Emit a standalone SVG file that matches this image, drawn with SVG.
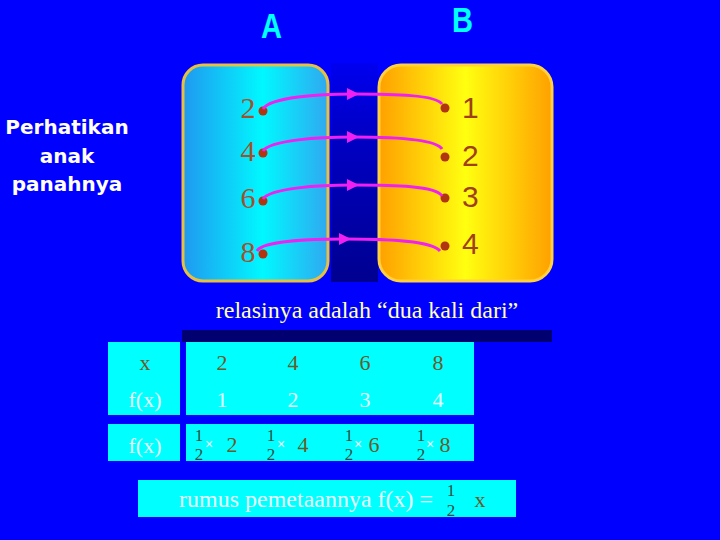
<svg xmlns="http://www.w3.org/2000/svg" width="720" height="540" viewBox="0 0 720 540">
<defs>
<linearGradient id="gA" x1="0" y1="0" x2="1" y2="0">
<stop offset="0" stop-color="#2098F0"/><stop offset="0.55" stop-color="#00F8FF"/><stop offset="1" stop-color="#30A8F0"/>
</linearGradient>
<linearGradient id="gB" x1="0" y1="0" x2="1" y2="0">
<stop offset="0" stop-color="#FFA000"/><stop offset="0.5" stop-color="#FFFF10"/><stop offset="1" stop-color="#FFA000"/>
</linearGradient>
<linearGradient id="gM" x1="0" y1="0" x2="0" y2="1">
<stop offset="0" stop-color="#0000F0"/><stop offset="0.3" stop-color="#0000C8"/><stop offset="1" stop-color="#000090"/>
</linearGradient>
<marker id="ah" viewBox="0 0 10 10" refX="5" refY="5" markerWidth="4" markerHeight="4" markerUnits="strokeWidth" orient="auto">
<path d="M0,0 L10,5 L0,10 z" fill="#F020F0"/>
</marker>
<style>
.ttl{font-family:"Liberation Sans",Arial,sans-serif;font-weight:bold;font-size:35px;fill:#00FFFF}
.lbl{font-family:"DejaVu Sans",Verdana,sans-serif;font-weight:bold;font-size:20px;fill:#FFFFFF;text-anchor:middle}
.nl{font-family:"Liberation Serif","Times New Roman",serif;font-size:30px;fill:#A0522D;text-anchor:middle}
.nr{font-family:"Liberation Sans",Arial,sans-serif;font-size:30px;fill:#A0401A}
.dot{fill:#B03510}
.arr{fill:none;stroke:#F020F0;stroke-width:3;marker-mid:url(#ah)}
.cell{fill:#00FFFF}
.s{font-family:"Liberation Serif","Times New Roman",serif;font-size:22px;text-anchor:middle}
.dk{fill:#6B5A2A}
.lt{fill:#E8FFFF}
.fr{font-family:"Liberation Serif","Times New Roman",serif;font-size:17px;fill:#2F4F3F;text-anchor:middle}
.ml{font-family:"Liberation Sans",Arial,sans-serif;font-size:14px;fill:#E8FFFF}
</style>
</defs>
<rect width="720" height="540" fill="#0000FF"/>
<text class="ttl" x="261" y="38" textLength="21" lengthAdjust="spacingAndGlyphs">A</text>
<text class="ttl" x="452" y="32" textLength="21" lengthAdjust="spacingAndGlyphs">B</text>
<g id="note">
<text class="lbl" x="67" y="134">Perhatikan</text>
<text class="lbl" x="67" y="163">anak</text>
<text class="lbl" x="67" y="191">panahnya</text>
</g>
<rect id="mid" x="331" y="63" width="47" height="219" fill="url(#gM)"/>
<g id="setA">
<rect x="183" y="65" width="145" height="216" rx="20" fill="url(#gA)" stroke="#E8C040" stroke-width="3"/>
<text class="nl" x="248" y="118">2</text>
<text class="nl" x="248" y="161">4</text>
<text class="nl" x="248" y="208">6</text>
<text class="nl" x="248" y="262">8</text>
<circle class="dot" cx="263" cy="111" r="4.5"/>
<circle class="dot" cx="263" cy="153" r="4.5"/>
<circle class="dot" cx="263" cy="201" r="4.5"/>
<circle class="dot" cx="263" cy="254" r="4.5"/>
</g>
<g id="setB">
<rect x="379" y="65" width="173" height="216" rx="22" fill="url(#gB)" stroke="#FFD040" stroke-width="3"/>
<text class="nr" x="462" y="118">1</text>
<text class="nr" x="462" y="166">2</text>
<text class="nr" x="462" y="207">3</text>
<text class="nr" x="462" y="254">4</text>
<circle class="dot" cx="445" cy="108" r="4.5"/>
<circle class="dot" cx="445" cy="157" r="4.5"/>
<circle class="dot" cx="445" cy="198" r="4.5"/>
<circle class="dot" cx="445" cy="246" r="4.5"/>
</g>
<g id="connectors">
<path class="arr" d="M263,109 C270,97 320,94 353,94 C395,94 436,95 442,104"/>
<path class="arr" d="M263,151 C270,140 320,137 353,137 C395,137 436,139 442,149"/>
<path class="arr" d="M263,199 C270,188 320,185 353,185 C395,185 436,186 442,196"/>
<path class="arr" d="M257,251 C262,241 310,239 345,239 C390,239 432,241 440,251"/>
</g>
<text x="367" y="318" font-family="Liberation Serif,Times New Roman,serif" font-size="24" fill="#FFFFC0" text-anchor="middle">relasinya adalah “dua kali dari”</text>
<rect x="182" y="330" width="370" height="12" fill="#000070"/>
<g id="table">
<rect class="cell" x="108" y="342" width="72" height="73"/>
<rect class="cell" x="186" y="342" width="288" height="73"/>
<rect class="cell" x="108" y="424" width="72" height="37"/>
<rect class="cell" x="186" y="424" width="288" height="37"/>
<text class="s dk" x="145" y="370">x</text>
<text class="s lt" x="145" y="407">f(x)</text>
<text class="s dk" x="222" y="370">2</text>
<text class="s dk" x="293" y="370">4</text>
<text class="s dk" x="365" y="370">6</text>
<text class="s dk" x="438" y="370">8</text>
<text class="s lt" x="222" y="407">1</text>
<text class="s lt" x="293" y="407">2</text>
<text class="s lt" x="365" y="407">3</text>
<text class="s lt" x="438" y="407">4</text>
<text class="s lt" x="145" y="453">f(x)</text>
<text class="fr" x="199" y="441">1</text><text class="fr" x="199" y="460">2</text>
<text class="ml" x="205" y="449">×</text><text class="s dk" x="232" y="452">2</text>
<text class="fr" x="271" y="441">1</text><text class="fr" x="271" y="460">2</text>
<text class="ml" x="277" y="449">×</text><text class="s dk" x="303" y="452">4</text>
<text class="fr" x="349" y="441">1</text><text class="fr" x="349" y="460">2</text>
<text class="ml" x="354" y="449" font-size="11">×</text><text class="s dk" x="374" y="452">6</text>
<text class="fr" x="421" y="441">1</text><text class="fr" x="421" y="460">2</text>
<text class="ml" x="426" y="449" font-size="11">×</text><text class="s dk" x="445" y="452">8</text>
</g>
<g id="formula">
<rect class="cell" x="138" y="480" width="378" height="37"/>
<text x="179" y="507" font-family="Liberation Serif,Times New Roman,serif" font-size="24" fill="#E8FFFF">rumus pemetaannya f(x) =</text>
<text class="fr" x="451" y="496">1</text><text class="fr" x="451" y="516">2</text>
<text class="s dk" x="480" y="507">x</text>
</g>
</svg>
